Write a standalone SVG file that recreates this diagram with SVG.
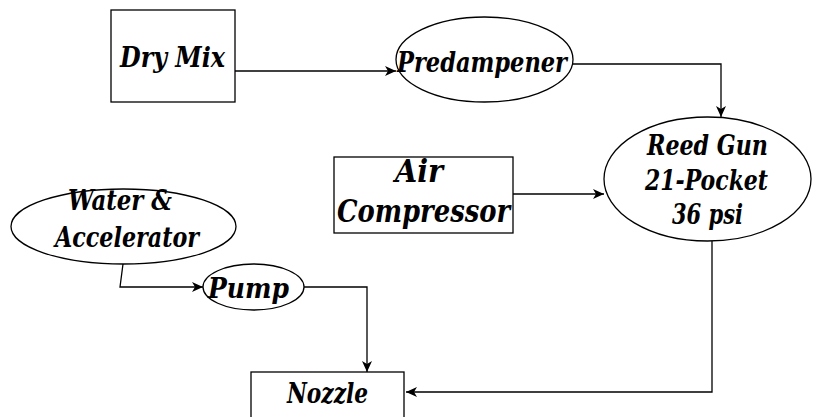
<svg xmlns="http://www.w3.org/2000/svg" width="819" height="417" viewBox="0 0 819 417">
<style>
.shape{fill:#fff;stroke:#000;stroke-width:1.3}
.lbl{font-family:"DejaVu Serif","Liberation Serif",serif;font-stretch:condensed;font-weight:bold;font-style:italic;font-size:27px;fill:#000;text-anchor:middle}
.big{font-size:32px}
.conn{fill:none;stroke:#000;stroke-width:1.3}
</style>
<defs>
<marker id="arr" markerUnits="userSpaceOnUse" markerWidth="12" markerHeight="10" refX="11" refY="5" orient="auto">
<path d="M0,0 L11,5 L0,10 L3,5 z" fill="#000"/>
</marker>
</defs>
<rect width="819" height="417" fill="#fff"/>
<g id="connectors">
<path class="conn" d="M235,71 H396" marker-end="url(#arr)"/>
<path class="conn" d="M573,64 H721 V117" marker-end="url(#arr)"/>
<path class="conn" d="M513,194 H604" marker-end="url(#arr)"/>
<path class="conn" d="M123,264 L120,287 H203" marker-end="url(#arr)"/>
<path class="conn" d="M304,287 H367 V372" marker-end="url(#arr)"/>
<path class="conn" d="M712,241 V392 H406" marker-end="url(#arr)"/>
</g>
<g id="dry-mix">
<rect class="shape" x="111" y="10" width="124" height="92"/>
<text class="lbl" x="172.5" y="67" textLength="105" lengthAdjust="spacingAndGlyphs">Dry Mix</text>
</g>
<g id="predampener">
<ellipse class="shape" cx="484.5" cy="59.5" rx="88.5" ry="42.5"/>
<text class="lbl" x="482" y="72" textLength="170" lengthAdjust="spacingAndGlyphs">Predampener</text>
</g>
<g id="reed-gun">
<ellipse class="shape" cx="707.5" cy="179" rx="103.5" ry="62"/>
<text class="lbl" x="707.5" y="155" textLength="121" lengthAdjust="spacingAndGlyphs">Reed Gun</text>
<text class="lbl" x="706.5" y="190" textLength="123" lengthAdjust="spacingAndGlyphs">21-Pocket</text>
<text class="lbl" x="707.5" y="224" textLength="71" lengthAdjust="spacingAndGlyphs">36 psi</text>
</g>
<g id="air-compressor">
<rect class="shape" x="334" y="157" width="179" height="76"/>
<text class="lbl big" x="419" y="182" textLength="48" lengthAdjust="spacingAndGlyphs">Air</text>
<text class="lbl big" x="423.5" y="222" textLength="173" lengthAdjust="spacingAndGlyphs">Compressor</text>
</g>
<g id="water-accelerator">
<ellipse class="shape" cx="123.5" cy="226.5" rx="112.5" ry="37.5"/>
<text class="lbl" x="120" y="210" textLength="104" lengthAdjust="spacingAndGlyphs">Water &amp;</text>
<text class="lbl" x="127" y="247" textLength="144" lengthAdjust="spacingAndGlyphs">Accelerator</text>
</g>
<g id="pump">
<ellipse class="shape" cx="253.5" cy="287" rx="50.5" ry="23"/>
<text class="lbl" x="248.5" y="298" textLength="81" lengthAdjust="spacingAndGlyphs">Pump</text>
</g>
<g id="nozzle">
<rect class="shape" x="251" y="372" width="153" height="60"/>
<text class="lbl" x="327.5" y="403" textLength="81" lengthAdjust="spacingAndGlyphs">Nozzle</text>
</g>
</svg>
